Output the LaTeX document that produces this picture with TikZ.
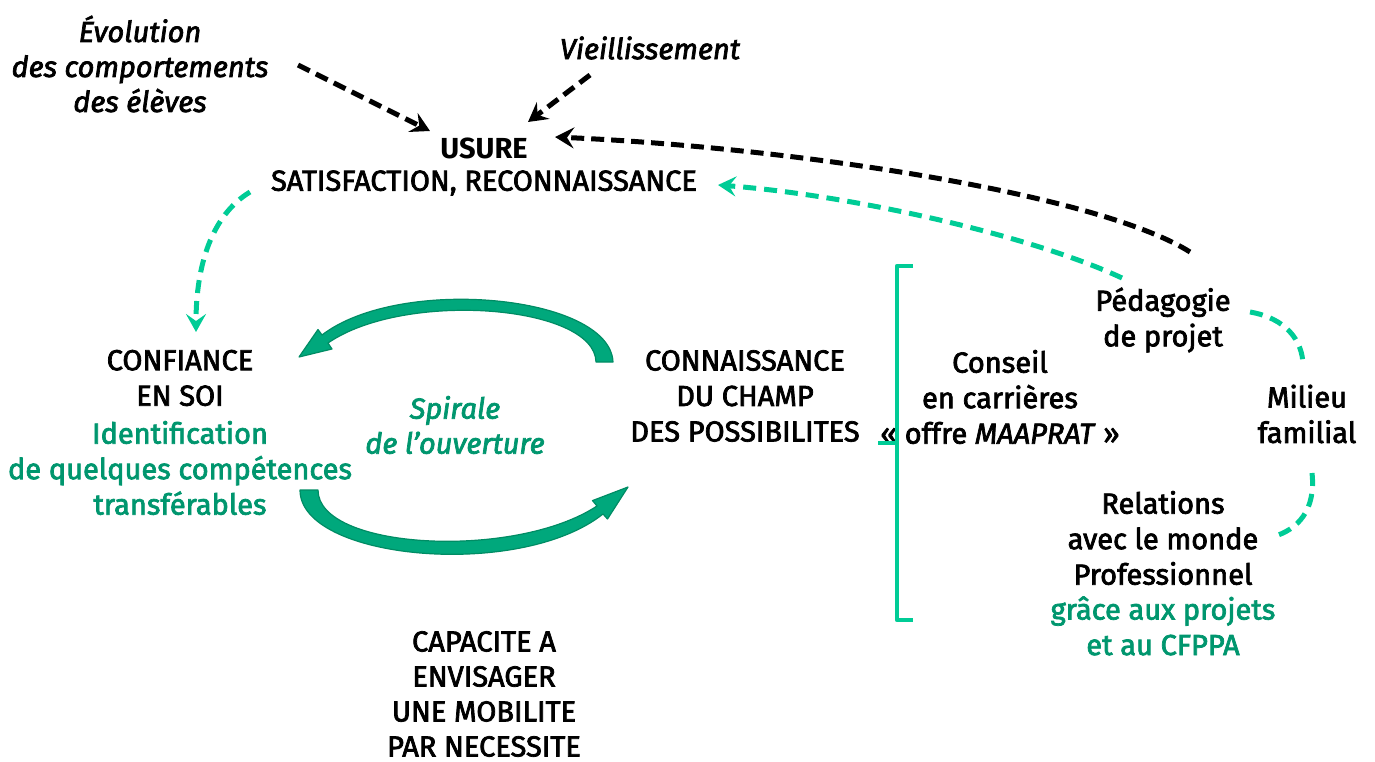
\documentclass[tikz,border=0pt]{standalone}
\usepackage{fontspec}
\setmainfont{Fira Sans}
\newfontfamily\med{Fira Sans}[FakeBold=2.5]
\usetikzlibrary{arrows.meta}
\definecolor{tgreen}{RGB}{0,150,110}
\definecolor{dgreen}{RGB}{0,204,150}
\definecolor{sgreen}{RGB}{0,168,124}
\definecolor{sdark}{RGB}{0,140,100}
\begin{document}
\begin{tikzpicture}[x=1pt,y=-1pt,
  lbl/.style={align=center, font=\med\fontsize{29}{35.5}\selectfont, inner sep=0pt},
  grtxt/.style={lbl, text=tgreen},
  ital/.style={font=\med\itshape\fontsize{29}{35}\selectfont},
  blk/.style={black, line width=5pt, dash pattern=on 13pt off 7pt,
    -{Stealth[length=19pt,width=21pt,inset=7pt]}},
  grn/.style={dgreen, line width=5pt, dash pattern=on 13pt off 8pt,
    -{Stealth[length=18pt,width=20pt,inset=7pt]}},
  grnl/.style={dgreen, line width=5pt, dash pattern=on 13pt off 8pt},
  band/.style={fill=sgreen, draw=sdark, line width=1.2pt, line join=round}
]
\useasboundingbox (0,0) rectangle (1375,762);

% texts
\node[lbl, ital] (evol) at (140,64) {Évolution\\des comportements\\des élèves};
\node[lbl, ital] (vieil) at (650,48) {Vieillissement};
\node[lbl, font=\bfseries\fontsize{29}{35}\selectfont] (usure) at (484,148) {USURE};
\node[lbl] (satis) at (484,183) {SATISFACTION, RECONNAISSANCE};
\node[lbl] (conf) at (180,378) {CONFIANCE\\EN SOI};
\node[grtxt] (confg) at (180,468) {Identification\\de quelques compétences\\transférables};
\node[grtxt, ital] (spir) at (455,425) {Spirale\\de l’ouverture};
\node[lbl] (conn) at (745,396) {CONNAISSANCE\\DU CHAMP\\DES POSSIBILITES};
\node[lbl] (cons) at (1000,397) {Conseil\\en carrières\\« offre \textit{MAAPRAT} »};
\node[lbl] (peda) at (1163,320) {Pédagogie\\de projet};
\node[lbl] (mil) at (1307,414) {Milieu\\familial};
\node[lbl] (rel) at (1163,538) {Relations\\avec le monde\\Professionnel};
\node[grtxt] (grace) at (1163,626) {grâce aux projets\\et au CFPPA};
\node[lbl, font=\med\fontsize{29}{35}\selectfont] (capa) at (484,694) {CAPACITE A\\ENVISAGER\\UNE MOBILITE\\PAR NECESSITE};

% connector end points
\coordinate (e1) at (298,65);
\coordinate (u1) at (430,131);
\coordinate (v1) at (590,75);
\coordinate (u2) at (528,122);
\coordinate (p1) at (1190,252);
\coordinate (u3) at (555,137);
\coordinate (p2) at (1122,278);
\coordinate (s1) at (718,185);
\coordinate (s2) at (250,192);
\coordinate (c1) at (196,332);
\coordinate (p3) at (1250,312);
\coordinate (m1) at (1303,366);
\coordinate (m2) at (1312,473);
\coordinate (r1) at (1272,537);

\draw[blk] (e1) -- (u1);
\draw[blk] (v1) -- (u2);
\draw[blk] (p1) .. controls (1100,195) and (800,148) .. (u3);
\draw[grn] (p2) .. controls (1030,235) and (850,195) .. (s1);
\draw[grn] (s2) .. controls (212,215) and (196,265) .. (c1);
\draw[grnl] (p3) .. controls (1285,318) and (1303,340) .. (m1);
\draw[grnl] (m2) .. controls (1316,510) and (1298,530) .. (r1);

% bracket
\coordinate (bt) at (913,266);
\coordinate (bb) at (913,620);
\coordinate (bm) at (878,443);
\draw[dgreen, line width=4.5pt, line join=round] (bt) -- (897,266) -- (897,620) -- (bb);
\draw[dgreen, line width=4.5pt] (897,443) -- (bm);

% spiral bands
\path[band] (613,362) .. controls (610,295) and (400,275) .. (322,335)
  -- (318,329.5) -- (299,357) -- (332,349) -- (328,343)
  .. controls (405,290) and (595,305) .. (596,362) -- cycle;
\path[band] (300,490) .. controls (300,560) and (520,580) .. (603,514)
  -- (607.5,519) -- (628,487) -- (592.5,500.6) -- (597,506)
  .. controls (515,560) and (318,550) .. (318,490) -- cycle;
\end{tikzpicture}
\end{document}
